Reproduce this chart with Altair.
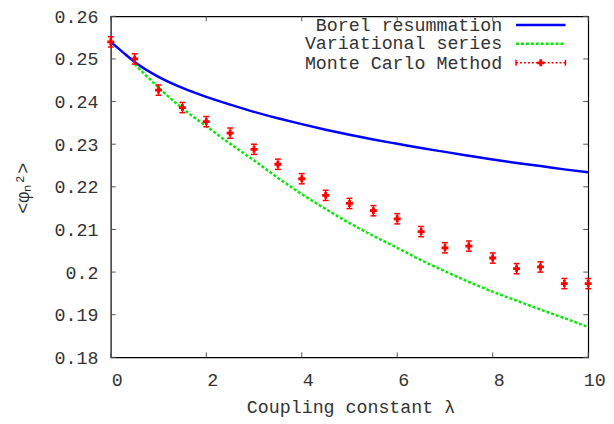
import altair as alt
import pandas as pd

# ---- data ----
lam_borel = [0, 0.25, 0.5, 1, 1.5, 2, 2.5, 3, 3.5, 4, 4.5, 5, 5.5, 6, 6.5, 7, 7.5, 8, 8.5, 9, 9.5, 10]
borel = [0.2540, 0.2516, 0.2493, 0.2458, 0.2432, 0.2411, 0.2393, 0.2376, 0.2361, 0.2347, 0.2334,
         0.2322, 0.2311, 0.2301, 0.2291, 0.2282, 0.2273, 0.2264, 0.2256, 0.2249, 0.2241, 0.2234]

lam_var = [0.5, 1, 1.5, 2, 2.5, 3, 3.5, 4, 4.5, 5, 5.5, 6, 6.5, 7, 7.5, 8, 8.5, 9, 9.5, 10]
variational = [0.2488, 0.2433, 0.2384, 0.2342, 0.2301, 0.2262, 0.2221, 0.2183, 0.2148, 0.2115,
               0.2085, 0.2057, 0.2028, 0.2002, 0.1977, 0.1954, 0.1933, 0.1912, 0.1892, 0.1871]

lam_mc = [0, 0.5, 1, 1.5, 2, 2.5, 3, 3.5, 4, 4.5, 5, 5.5, 6, 6.5, 7, 7.5, 8, 8.5, 9, 9.5, 10]
monte_carlo = [0.2540, 0.2500, 0.2427, 0.2386, 0.2353, 0.2326, 0.2288, 0.2253, 0.2219, 0.2180, 0.2161,
               0.2144, 0.2125, 0.2095, 0.2057, 0.2061, 0.2033, 0.2008, 0.2012, 0.1973, 0.1973]
mc_err = [0.0012, 0.0012, 0.0012, 0.0012, 0.0012, 0.0012, 0.0012, 0.0012, 0.0012, 0.0012, 0.0012,
          0.0012, 0.0012, 0.0012, 0.0012, 0.0012, 0.0012, 0.0012, 0.0012, 0.0012, 0.0012]

x_ticks = [0, 2, 4, 6, 8, 10]
y_ticks = [0.18, 0.19, 0.20, 0.21, 0.22, 0.23, 0.24, 0.25, 0.26]

legend_labels = ["Borel resummation", "Variational series", "Monte Carlo Method"]
x_title = "Coupling constant λ"
y_title = "<φₙ²>"

# ---- layout ----
W, H = 483, 345
FONT = "Liberation Mono"
FS = 18.5
TXT = "#333333"
RED = "#ff0000"
BLUE = "#0000ff"
GREEN = "#00ee00"

df_borel = pd.DataFrame({"lam": lam_borel, "val": borel})
df_var = pd.DataFrame({"lam": lam_var, "val": variational})
df_mc = pd.DataFrame({"lam": lam_mc, "val": monte_carlo, "err": mc_err})
df_xt = pd.DataFrame({"lam": x_ticks})
df_yt = pd.DataFrame({"val": y_ticks})
df_one = pd.DataFrame({"k": [0]})

xs = alt.Scale(domain=[0, 10], nice=False, zero=False)
ys = alt.Scale(domain=[0.18, 0.26], nice=False, zero=False)

xaxis = alt.Axis(values=x_ticks, format="d", grid=False, domain=False, ticks=False,
                 labelPadding=22.5, labelBaseline="middle", labelOffset=6, labelFlush=False,
                 labelFont=FONT, labelFontSize=FS, labelColor=TXT,
                 title=x_title, titleFont=FONT, titleFontSize=FS, titleColor=TXT,
                 titleFontWeight="normal", titleX=W / 2 + 1, titleY=50, titleBaseline="middle",
                 titleAlign="center")
yaxis = alt.Axis(values=y_ticks, format="~g", grid=False, domain=False, ticks=False,
                 labelPadding=13, labelFont=FONT, labelFontSize=FS, labelColor=TXT,
                 title=y_title, titleFont=FONT, titleFontSize=FS, titleColor=TXT,
                 titleFontWeight="normal", titleX=-89, titleY=H / 2 + 1, titleAngle=270,
                 titleAlign="center", titleBaseline="middle")


def X(f="lam:Q"):
    return alt.X(f, scale=xs, axis=xaxis)


def Y(f="val:Q"):
    return alt.Y(f, scale=ys, axis=yaxis)


borel_line = alt.Chart(df_borel).mark_line(color=BLUE, strokeWidth=2.5, interpolate="monotone").encode(
    x=X(), y=Y())

var_line = alt.Chart(df_var).mark_line(color=GREEN, strokeWidth=2.5, strokeDash=[3, 2],
                                       interpolate="monotone").encode(x=X(), y=Y())

mc_base = alt.Chart(df_mc).transform_calculate(lo="datum.val - datum.err", hi="datum.val + datum.err")
mc_bar = mc_base.mark_rule(color=RED, strokeWidth=1.2).encode(x=X(), y=Y("lo:Q"), y2="hi:Q")
mc_cap_lo = mc_base.mark_rule(color=RED, strokeWidth=1.5, xOffset=-3, x2Offset=3).encode(
    x=X(), x2="lam:Q", y=Y("lo:Q"))
mc_cap_hi = mc_base.mark_rule(color=RED, strokeWidth=1.5, xOffset=-3, x2Offset=3).encode(
    x=X(), x2="lam:Q", y=Y("hi:Q"))
mc_pt = mc_base.mark_point(shape="cross", filled=True, size=50, color=RED, opacity=1).encode(
    x=X(), y=Y())

# inward ticks on all four sides
tk = dict(color="#555555", strokeWidth=1)
t_bottom = alt.Chart(df_xt).mark_rule(**tk).encode(x=X(), y=alt.value(H), y2=alt.value(H - 5))
t_top = alt.Chart(df_xt).mark_rule(**tk).encode(x=X(), y=alt.value(0), y2=alt.value(5))
t_left = alt.Chart(df_yt).mark_rule(**tk).encode(y=Y(), x=alt.value(0), x2=alt.value(5))
t_right = alt.Chart(df_yt).mark_rule(**tk).encode(y=Y(), x=alt.value(W - 5), x2=alt.value(W))


# legend (manual, gnuplot style)
def leg_txt(i, yb):
    return alt.Chart(df_one).mark_text(align="right", baseline="alphabetic", font=FONT,
                                       fontSize=FS, color=TXT, text=legend_labels[i]).encode(
        x=alt.value(396), y=alt.value(yb))


leg_t0 = leg_txt(0, 14.5)
leg_t1 = leg_txt(1, 33.5)
leg_t2 = leg_txt(2, 52.8)
leg_blue = alt.Chart(df_one).mark_rule(color=BLUE, strokeWidth=2.5).encode(
    x=alt.value(410), x2=alt.value(460), y=alt.value(8.7))
leg_green = alt.Chart(df_one).mark_rule(color=GREEN, strokeWidth=2.5, strokeDash=[3, 2]).encode(
    x=alt.value(410), x2=alt.value(460), y=alt.value(27.7))
leg_red = alt.Chart(df_one).mark_rule(color=RED, strokeWidth=1.5, strokeDash=[2, 2]).encode(
    x=alt.value(410), x2=alt.value(460), y=alt.value(47))
leg_red_c1 = alt.Chart(df_one).mark_rule(color=RED, strokeWidth=1.5).encode(
    x=alt.value(410), y=alt.value(44), y2=alt.value(50))
leg_red_c2 = alt.Chart(df_one).mark_rule(color=RED, strokeWidth=1.5).encode(
    x=alt.value(460), y=alt.value(44), y2=alt.value(50))
leg_red_pt = alt.Chart(df_one).mark_point(shape="cross", filled=True, size=50, color=RED,
                                          opacity=1).encode(x=alt.value(435), y=alt.value(47))

chart = alt.layer(
    borel_line, var_line, mc_bar, mc_cap_lo, mc_cap_hi, mc_pt,
    t_bottom, t_top, t_left, t_right,
    leg_t0, leg_t1, leg_t2, leg_blue, leg_green, leg_red, leg_red_c1, leg_red_c2, leg_red_pt,
).properties(
    width=W, height=H,
    autosize=alt.AutoSizeParams(type="none"),
    padding={"left": 104, "top": 6, "right": 18, "bottom": 64},
    background="white",
).configure_view(stroke="black", strokeWidth=1.2)

chart.save("out.html", embed_options={"renderer": "svg", "actions": False})
